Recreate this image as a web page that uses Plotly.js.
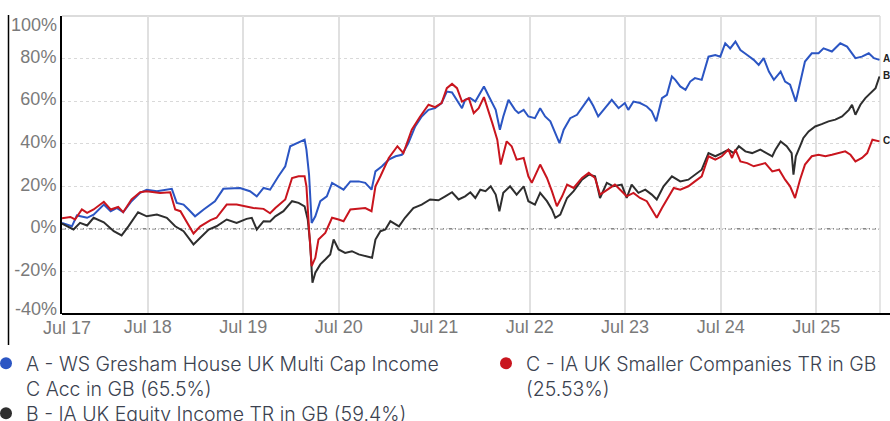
<!DOCTYPE html>
<html><head><meta charset="utf-8">
<script src="https://cdn.plot.ly/plotly-3.0.1.min.js"></script>
<style>html,body{margin:0;padding:0;background:#fff}#chart{width:890px;height:421px}</style>
</head><body><div id="chart"></div>
<script>
// ---- DATA (cumulative performance, %) ----
const seriesA = [
 ['2017-08-07',2.8],['2017-09-14',1.2],['2017-10-03',6.3],['2017-11-11',5.2],['2017-12-06',6.7],
 ['2018-01-14',11.4],['2018-02-09',8.3],['2018-03-04',9.8],['2018-03-29',7.8],['2018-04-30',13],['2018-06-02',16.9],['2018-06-27',18.4],['2018-08-05',17.7],['2018-09-06',18.4],['2018-10-01',18.8],['2018-10-20',12.2],['2018-11-15',11.4],['2018-12-04',9.1],['2018-12-29',5.9],
 ['2019-01-31',9.1],['2019-03-15',13],['2019-04-16',18.8],['2019-05-24',19.2],['2019-06-19',19.2],['2019-07-27',17.7],['2019-08-22',15.3],['2019-09-17',19.2],['2019-10-12',18.4],['2019-11-13',24.7],['2019-12-09',29.4],['2019-12-28',38.8],
 ['2020-01-23',40.3],['2020-02-21',41.9],['2020-02-28',37.2],['2020-03-09',25.5],['2020-03-19',2.8],['2020-04-02',5.9],['2020-04-21',13],['2020-05-16',15.3],['2020-06-05',21.6],['2020-06-30',20],['2020-07-19',18.4],['2020-08-14',22.3],['2020-09-15',22.3],['2020-10-10',21.6],['2020-11-03',18.4],['2020-11-18',27],['2020-12-13',29.4],
 ['2021-01-08',32.5],['2021-02-03',34.1],['2021-02-27',34.8],['2021-03-24',40.3],['2021-04-19',48.1],['2021-05-14',52.8],['2021-06-09',55.9],['2021-07-04',56.7],['2021-07-29',59.1],['2021-08-18',64.5],['2021-09-07',64.1],['2021-10-02',59.1],['2021-10-15',56.7],['2021-10-27',60.6],['2021-11-16',61.4],['2021-12-05',59.8],
 ['2022-01-07',66.9],['2022-01-26',62.2],['2022-02-21',55.9],['2022-03-09',46.6],['2022-03-22',52.8],['2022-04-11',60.6],['2022-05-06',55.9],['2022-05-19',54.4],['2022-06-08',55.9],['2022-06-26',52.8],['2022-07-21',52],['2022-08-10',56.7],['2022-08-29',52.8],['2022-09-18',50.5],['2022-10-07',45],['2022-10-23',40.3],['2022-11-08',46.6],['2022-12-03',52],['2022-12-29',53.6],
 ['2023-01-24',58.3],['2023-02-12',61.4],['2023-03-01',57.8],['2023-03-20',52.8],['2023-04-15',56.7],['2023-05-11',60.6],['2023-06-06',56.7],['2023-06-30',59.1],['2023-07-13',55.9],['2023-08-02',59.8],['2023-08-27',59.1],['2023-09-22',57.5],['2023-10-11',55.2],['2023-10-28',50.5],['2023-11-19',61.4],['2023-12-08',63],['2023-12-27',71.6],
 ['2024-01-09',70],['2024-01-28',66.9],['2024-02-17',65.3],['2024-03-06',69.2],['2024-03-24',70.8],['2024-04-19',70],['2024-05-15',80.9],['2024-06-10',81.7],['2024-06-29',80.9],['2024-07-18',87.2],['2024-08-06',84.8],['2024-08-26',88],['2024-09-14',84],['2024-10-10',81.7],['2024-11-04',79.4],['2024-11-23',77],['2024-12-12',80.2],
 ['2025-01-01',73.9],['2025-01-20',70],['2025-02-15',73.9],['2025-03-04',69.2],['2025-03-23',67.7],['2025-04-14',59.8],['2025-04-30',68.4],['2025-05-19',78.6],['2025-06-14',82.5],['2025-07-10',82.5],['2025-07-29',84.8],['2025-08-30',83.3],['2025-10-01',87.2],['2025-10-27',85.6],['2025-11-28',80.2],['2025-12-23',80.9],
 ['2026-01-18',82.5],['2026-02-07',80.2],['2026-02-28',79.4]
];
const seriesB = [
 ['2017-08-07',2.5],['2017-09-20',-0.3],['2017-10-15',2.8],['2017-11-11',1.6],['2017-12-06',5.2],
 ['2018-01-14',3.1],['2018-02-21',-1.1],['2018-03-23',-3.1],['2018-04-18',1.2],['2018-05-25',7.8],['2018-06-27',5.9],['2018-08-05',6.7],['2018-09-12',5.2],['2018-10-14',1.2],['2018-11-15',-1.1],['2018-12-23',-7.3],
 ['2019-01-18',-4.2],['2019-02-19',-0.3],['2019-03-21',1.2],['2019-04-29',4.4],['2019-06-06',2.8],['2019-07-14',4.7],['2019-08-03',5.2],['2019-08-22',-0.3],['2019-09-17',3.6],['2019-10-12',3.5],['2019-11-01',5.9],['2019-12-02',8.3],
 ['2020-01-04',13],['2020-01-29',12.2],['2020-02-21',10.6],['2020-03-04',4.4],['2020-03-13',-6.6],['2020-03-22',-25.3],['2020-04-02',-20.6],['2020-04-21',-16.7],['2020-05-10',-14.4],['2020-05-29',-12],['2020-06-11',-5],['2020-06-30',-9.7],['2020-07-25',-11.3],['2020-08-20',-10.5],['2020-09-15',-12],['2020-10-10',-12.8],['2020-11-05',-13.6],['2020-11-18',-5],['2020-12-07',-1.1],['2020-12-26',-0.3],
 ['2021-01-14',3.6],['2021-02-16',1.2],['2021-03-11',5.2],['2021-04-12',9.8],['2021-05-14',11.4],['2021-06-15',13.8],['2021-07-17',13.4],['2021-08-12',15.3],['2021-09-07',17.2],['2021-10-02',13.8],['2021-10-27',15.3],['2021-11-16',17.2],['2021-12-05',14.5],['2021-12-24',18.4],
 ['2022-01-13',17.7],['2022-02-02',20],['2022-02-21',16.1],['2022-03-07',8.3],['2022-03-22',16.9],['2022-04-17',20],['2022-05-12',16.1],['2022-06-08',20],['2022-06-26',13],['2022-07-21',11.4],['2022-08-10',16.9],['2022-09-05',13],['2022-09-24',9.1],['2022-10-07',5.2],['2022-10-26',6.7],['2022-11-21',14.5],['2022-12-16',17.7],
 ['2023-01-17',23.1],['2023-02-12',25.5],['2023-03-08',24.7],['2023-03-27',14.5],['2023-04-22',21.6],['2023-05-17',20],['2023-06-18',20.8],['2023-07-07',14.5],['2023-07-26',20.8],['2023-08-21',16.9],['2023-09-16',18.4],['2023-10-11',16.1],['2023-10-30',13.8],['2023-11-25',20],['2023-12-27',24.7],
 ['2024-01-28',22.3],['2024-02-28',23.1],['2024-03-24',25.5],['2024-04-19',27.8],['2024-05-15',35.6],['2024-06-10',34.1],['2024-07-05',35.6],['2024-07-30',37.2],['2024-08-19',35.6],['2024-09-08',38.8],['2024-10-03',36.4],['2024-10-29',35.6],['2024-11-29',37.2],['2024-12-25',35.6],
 ['2025-01-14',34.1],['2025-01-26',37.2],['2025-02-15',41.1],['2025-03-10',38.8],['2025-03-29',35.6],['2025-04-05',25.5],['2025-04-14',34.1],['2025-04-30',38.8],['2025-05-13',42.7],['2025-06-02',45.8],['2025-06-27',48.1],['2025-07-22',49.2],['2025-08-17',50.5],['2025-09-12',51.3],['2025-10-08',52.8],['2025-11-03',55.9],['2025-11-15',58.3],['2025-11-28',53.6],['2025-12-17',58.3],
 ['2026-01-05',61.4],['2026-01-25',63.8],['2026-02-13',66.1],['2026-02-28',71.6]
];
const seriesC = [
 ['2017-08-07',5],['2017-09-08',5.6],['2017-09-26',4.4],['2017-10-22',9.1],['2017-11-11',7.5],['2017-12-06',9.1],
 ['2018-01-14',12.7],['2018-02-09',9.1],['2018-03-10',10.3],['2018-03-29',7.8],['2018-04-30',13.8],['2018-06-02',17.2],['2018-06-27',17.7],['2018-08-17',16.9],['2018-09-25',17.2],['2018-10-14',9.1],['2018-11-03',8.3],['2018-11-22',4.4],['2018-12-23',-2.2],
 ['2019-01-18',1.2],['2019-02-26',4.1],['2019-03-21',5.2],['2019-04-29',11.4],['2019-06-06',11.4],['2019-07-14',10.6],['2019-08-09',9.8],['2019-09-17',9.4],['2019-10-12',7.3],['2019-11-01',9.8],['2019-12-09',13.8],
 ['2020-01-04',23.9],['2020-01-29',24.7],['2020-02-21',24.7],['2020-02-28',20],['2020-03-09',-0.3],['2020-03-19',-17.5],['2020-04-02',-13.6],['2020-04-14',-5],['2020-05-10',-1.9],['2020-06-05',5.2],['2020-06-30',4.4],['2020-07-19',3.6],['2020-08-14',9.1],['2020-09-15',9.4],['2020-10-10',9.8],['2020-11-03',8.3],['2020-11-18',20],['2020-12-07',24.7],
 ['2021-01-08',33.3],['2021-02-10',38.8],['2021-03-05',35.6],['2021-04-06',46.6],['2021-05-08',52.8],['2021-06-09',58.3],['2021-07-04',57.2],['2021-07-29',59.1],['2021-08-18',66.1],['2021-09-07',68.1],['2021-09-26',66.1],['2021-10-15',59.8],['2021-10-27',60.6],['2021-11-10',61.4],['2021-11-29',54.4],['2021-12-05',55.2],['2021-12-18',56.7],
 ['2022-01-07',61.9],['2022-01-19',57.5],['2022-02-08',49.7],['2022-02-27',41.9],['2022-03-12',30.2],['2022-04-04',41.1],['2022-04-23',38.8],['2022-05-12',32.5],['2022-06-08',33.3],['2022-06-26',24.7],['2022-07-09',21.6],['2022-08-10',30.2],['2022-09-05',23.9],['2022-09-24',17.7],['2022-10-13',10.6],['2022-11-02',15.3],['2022-11-21',20.8],['2022-12-16',19.2],
 ['2023-01-17',23.9],['2023-02-12',26.3],['2023-03-08',23.9],['2023-03-27',16.1],['2023-04-22',18.4],['2023-05-23',20.8],['2023-06-18',17.7],['2023-07-07',15.3],['2023-08-02',16.9],['2023-08-27',14.5],['2023-09-22',13],['2023-10-11',9.1],['2023-10-30',5.2],['2023-11-19',9.8],['2023-12-14',15.3],
 ['2024-01-03',19.2],['2024-01-28',18.4],['2024-02-28',20],['2024-03-24',22.3],['2024-04-19',24.7],['2024-05-15',34.1],['2024-06-10',32.5],['2024-07-05',34.1],['2024-07-30',37.2],['2024-08-13',33.3],['2024-08-26',37.2],['2024-09-14',31.7],['2024-10-10',30.9],['2024-11-04',29.4],['2024-11-29',30.2],['2024-12-18',30.9],
 ['2025-01-14',27],['2025-02-09',27.8],['2025-03-04',23.1],['2025-03-23',20],['2025-04-11',14.5],['2025-04-30',23.1],['2025-05-19',30.2],['2025-06-14',34.1],['2025-07-10',34.8],['2025-08-05',34.1],['2025-08-30',34.8],['2025-09-25',35.6],['2025-10-20',36.4],['2025-11-09',34.8],['2025-11-28',31.7],['2025-12-23',33.3],
 ['2026-01-12',35.6],['2026-02-01',41.9],['2026-02-13',41.6],['2026-02-28',41.1]
];
const seriesKeys = ['A','B','C'];
const legendNames = [
 'A - WS Gresham House UK Multi Cap Income<br>C Acc in GB (65.5%)',
 'B - IA UK Equity Income TR in GB (59.4%)',
 'C - IA UK Smaller Companies TR in GB<br>(25.53%)'
];
const tickDates = ['2018-07-01','2019-07-01','2020-07-01','2021-07-01','2022-07-01','2023-07-01','2024-07-01','2025-07-01'];
const tickLabels = ['Jul 18','Jul 19','Jul 20','Jul 21','Jul 22','Jul 23','Jul 24','Jul 25'];
const firstTickLabel = 'Jul 17';
const yTicks = [-40,-20,0,20,40,60,80,100];
const yTickLabels = ['-40%','-20%','0%','20%','40%','60%','80%','100%'];
const xRange = ['2017-08-07','2026-03-02'];

// ---- STYLE ----
const colors = ['#2b55c3','#2e2e2e','#c9151e'];
const W = 890, H = 421;
const M = {l:62, r:10, t:16, b:107};
const pw = W - M.l - M.r, ph = H - M.t - M.b;
const px2x = px => (px - M.l) / pw;
const py2y = py => (H - M.b - py) / ph;
const tickFont = {family:'Liberation Sans, Arial, sans-serif', size:18, color:'#7a7a7a'};
const legendFont = {family:'Inter, Roboto, sans-serif', size:19.5, weight:300, color:'#3b4250'};
// legend placement (px): [left, top] for A, B, C entries
const legendBoxes = [[-14, 344], [-14, 394], [486, 344]];
const legendIds = ['legend', 'legend3', 'legend2'];
// y labels at range ends are nudged inside the plot, as in the source chart
const edgeLabelShift = {'100':-9, '-40':5.5};

const allSeries = [seriesA, seriesB, seriesC];
const traces = [];
allSeries.forEach((s, i) => {
  traces.push({
    type:'scatter', mode:'lines',
    x: s.map(p => p[0]), y: s.map(p => p[1]),
    line:{color:colors[i], width:2},
    showlegend:false, hoverinfo:'skip'
  });
});
allSeries.forEach((s, i) => {
  traces.push({
    type:'scatter', mode:'markers', x:[null], y:[null],
    marker:{color:colors[i], size:11, symbol:'circle'},
    name: legendNames[i], legend: legendIds[i], showlegend:true
  });
});

const annotations = allSeries.map((s, i) => ({
  x: s[s.length-1][0], y: s[s.length-1][1], xref:'x', yref:'y',
  text:'<b>' + seriesKeys[i] + '</b>', showarrow:false,
  xanchor:'left', yanchor:'middle', xshift:2, yshift:1,
  font:{family:'Liberation Sans, Arial, sans-serif', size:10, color:'#222'}
}));
annotations.push({
  x: px2x(67), y: 0, xref:'paper', yref:'paper', text:firstTickLabel,
  showarrow:false, xanchor:'center', yanchor:'top', yshift:-2, font:tickFont
});
yTicks.forEach((v, i) => {
  if (edgeLabelShift[v] !== undefined) {
    annotations.push({
      x:0, y:v, xref:'paper', yref:'y', text:yTickLabels[i], showarrow:false,
      xanchor:'right', yanchor:'middle', xshift:-3, yshift:edgeLabelShift[v], font:tickFont
    });
  }
});

const shapes = [
  {type:'line', xref:'paper', yref:'paper', x0:0, x1:1, y0:1, y1:1, line:{color:'#dcdcdc', width:2}, layer:'below'},
  {type:'line', xref:'paper', yref:'paper', x0:1, x1:1, y0:0, y1:1, line:{color:'#dcdcdc', width:1.5}, layer:'below'},
  {type:'line', xref:'paper', yref:'y', x0:0, x1:1, y0:0, y1:0, line:{color:'#444', width:1, dash:'4px,2px,1px,2px'}, layer:'below'},
  {type:'line', xref:'paper', yref:'paper', x0:0, x1:px2x(890), y0:0, y1:0, line:{color:'#000', width:2}, layer:'above'},
  {type:'line', xref:'paper', yref:'paper', x0:px2x(8.5), x1:px2x(8.5), y0:py2y(15), y1:py2y(345), line:{color:'#000', width:1.5}, layer:'above'}
];

function legendCfg(box) {
  return {
    orientation:'v', x:px2x(box[0]), xanchor:'left', y:py2y(box[1]), yanchor:'top',
    valign:'top', itemsizing:'constant', bgcolor:'rgba(0,0,0,0)', font:legendFont
  };
}

const layout = {
  width:W, height:H,
  margin:{l:M.l, r:M.r, t:M.t, b:M.b, autoexpand:false},
  paper_bgcolor:'#fff', plot_bgcolor:'#fff',
  showlegend:true,
  xaxis:{
    type:'date', range:xRange, tickvals:tickDates, ticktext:tickLabels,
    showgrid:true, gridcolor:'#e0e0e0', gridwidth:2, ticks:'',
    showline:false, zeroline:false, tickfont:tickFont, fixedrange:true
  },
  yaxis:{
    range:[-40,100], tickvals:yTicks,
    ticktext:yTicks.map((v, i) => edgeLabelShift[v] !== undefined ? '' : yTickLabels[i]),
    ticklabelshift:-2,
    showgrid:true, gridcolor:'#d9d9d9', gridwidth:1, griddash:'dot',
    zeroline:false, showline:true, linecolor:'#000', linewidth:2, ticks:'',
    tickfont:tickFont, fixedrange:true
  },
  legend: legendCfg(legendBoxes[0]),
  legend2: legendCfg(legendBoxes[2]),
  legend3: legendCfg(legendBoxes[1]),
  annotations: annotations,
  shapes: shapes
};

Plotly.newPlot('chart', traces, layout, {displayModeBar:false, staticPlot:true});
</script>
</body></html>
